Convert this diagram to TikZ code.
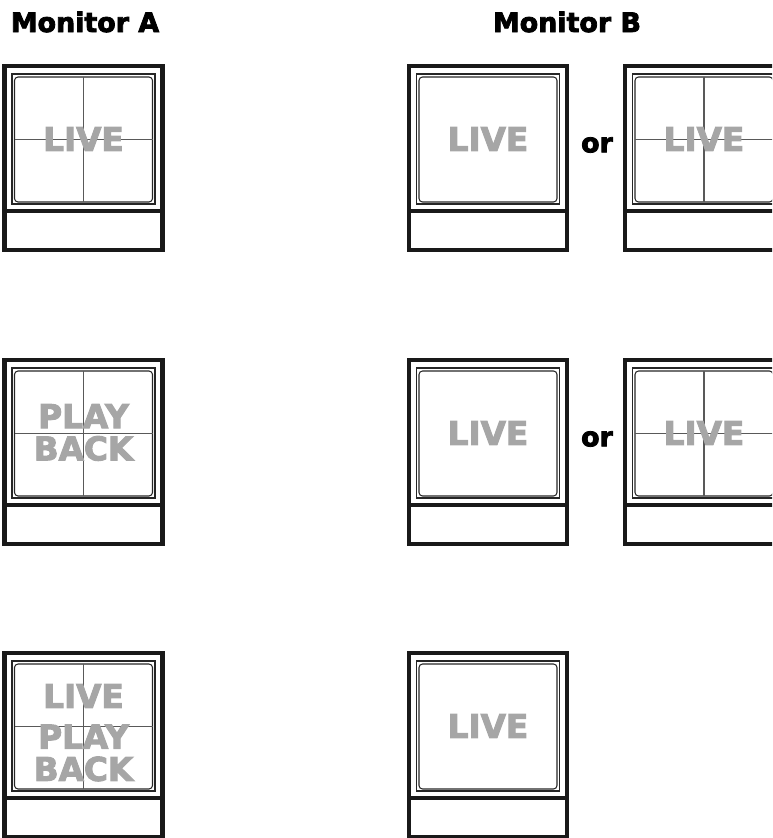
\documentclass[tikz,border=0pt]{standalone}
\usepackage{fontspec}
\setmainfont{DejaVu Sans}
\newfontfamily\heavyfont{DejaVu Sans Bold}[FakeBold=3]
\usepackage{tikz}
\usepackage{xcolor}

\begin{document}
\begin{tikzpicture}[x=0.02cm,y=-0.02cm,
  frame/.style={line width=2.5pt,black!90},
  bezel/.style={line width=0.6pt,black!85},
  grid/.style={line width=0.6pt,black!65},
  head/.style={font=\heavyfont\fontsize{15.3}{16}\selectfont,inner sep=0pt},
  screen/.style={black!35,font=\heavyfont\fontsize{18.6}{18.4}\selectfont,align=center,inner sep=0pt},
  pics/mon/.style={code={
    \draw[bezel] (7.5,8) rectangle (150.5,138);
    \draw[bezel,rounded corners=2pt] (10,11) rectangle (148,136);
    \draw[frame] (0,0) rectangle (158,184);
    \draw[line width=2pt,black!90] (0,145) -- (158,145);
  }},
  pics/quadmon/.style={code={
    \pic {mon};
    \draw[grid] (79,11) -- (79,136);
    \draw[grid] (10,73.5) -- (148,73.5);
  }}]
\clip (0,0) rectangle (772,838);
\node[head] (headA) at (85,22) {Monitor A};
\node[head] (headB) at (567,22) {Monitor B};
% row 1
\pic at (4.5,66) {quadmon};
\pic at (409,66) {mon};
\pic at (625,66) {quadmon};
\node[screen] (liveA1) at (83.5,139) {LIVE};
\node[screen] (liveB1) at (488,139) {LIVE};
\node[screen] (liveC1) at (704,139) {LIVE};
\node[head] (or1) at (597,145) {or};
% row 2
\pic at (4.5,360) {quadmon};
\pic at (409,360) {mon};
\pic at (625,360) {quadmon};
\node[screen] (playA2) at (83.5,432.5) {PLAY\\BACK};
\node[screen] (liveB2) at (488,433) {LIVE};
\node[screen] (liveC2) at (704,433) {LIVE};
\node[head] (or2) at (597,439) {or};
% row 3
\pic at (4.5,653) {quadmon};
\pic at (409,653) {mon};
\node[screen] (liveA3) at (83.5,696) {LIVE};
\node[screen] (playA3) at (83.5,753) {PLAY\\BACK};
\node[screen] (liveB3) at (488,726) {LIVE};
\end{tikzpicture}
\end{document}
